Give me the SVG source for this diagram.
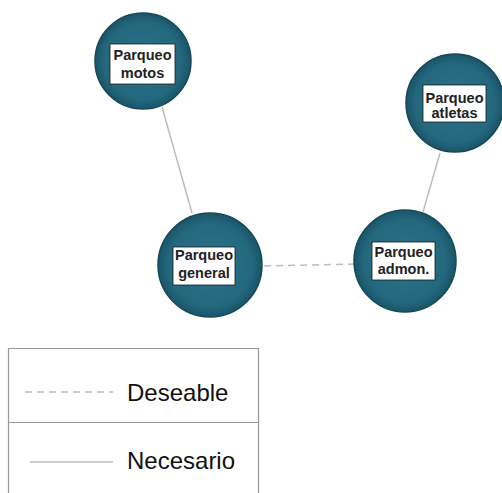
<svg xmlns="http://www.w3.org/2000/svg" width="502" height="493" viewBox="0 0 502 493">
<defs>
<radialGradient id="g" cx="0.5" cy="0.5" r="0.5">
<stop offset="0" stop-color="#2b7288"/>
<stop offset="0.8" stop-color="#24687e"/>
<stop offset="1" stop-color="#1a5568"/>
</radialGradient>
<style>
.c{fill:url(#g);stroke:#174858;stroke-width:1.5}
.lb{fill:#fff;stroke:#1a1a1a;stroke-width:0.8}
.t{font-family:"Liberation Sans",Arial,sans-serif;font-weight:bold;font-size:14.5px;fill:#222;text-anchor:middle}
.e{stroke:#bdbdbd;stroke-width:1.5;fill:none}
.d{stroke-dasharray:7 5}
.lg{font-family:"Liberation Sans",Arial,sans-serif;font-size:24px;fill:#111}
</style>
</defs>
<rect width="502" height="493" fill="#fff"/>
<g id="connectors">
<line class="e" x1="162" y1="107" x2="192" y2="213"/>
<line class="e" x1="440" y1="153" x2="423" y2="212"/>
<line class="e d" x1="264" y1="266" x2="355" y2="264"/>
</g>
<g id="node-motos">
<circle class="c" cx="143" cy="61" r="48"/>
<rect class="lb" x="110" y="44" width="65" height="40"/>
<text class="t" x="142.5" y="60">Parqueo</text>
<text class="t" x="142.5" y="78">motos</text>
</g>
<g id="node-atletas">
<circle class="c" cx="455" cy="103" r="49"/>
<rect class="lb" x="423" y="85" width="63" height="37"/>
<text class="t" x="454.5" y="103">Parqueo</text>
<text class="t" x="454.5" y="118">atletas</text>
</g>
<g id="node-general">
<circle class="c" cx="210" cy="265" r="52"/>
<rect class="lb" x="173" y="247" width="62" height="38"/>
<text class="t" x="204" y="260">Parqueo</text>
<text class="t" x="204" y="278">general</text>
</g>
<g id="node-admon">
<circle class="c" cx="405" cy="261" r="51"/>
<rect class="lb" x="372" y="242" width="63" height="38"/>
<text class="t" x="403.5" y="257">Parqueo</text>
<text class="t" x="403.5" y="274">admon.</text>
</g>
<g id="legend">
<path d="M8.5 493 V348.5 H258.5 V493" fill="none" stroke="#999" stroke-width="1.2"/>
<line x1="8.5" y1="422.5" x2="258.5" y2="422.5" stroke="#999" stroke-width="1.2"/>
<line class="e d" x1="25" y1="392" x2="113" y2="392" stroke-dasharray="6 4"/>
<text class="lg" x="127" y="401">Deseable</text>
<line class="e" x1="30" y1="462" x2="113" y2="462"/>
<text class="lg" x="127" y="469">Necesario</text>
</g>
</svg>
